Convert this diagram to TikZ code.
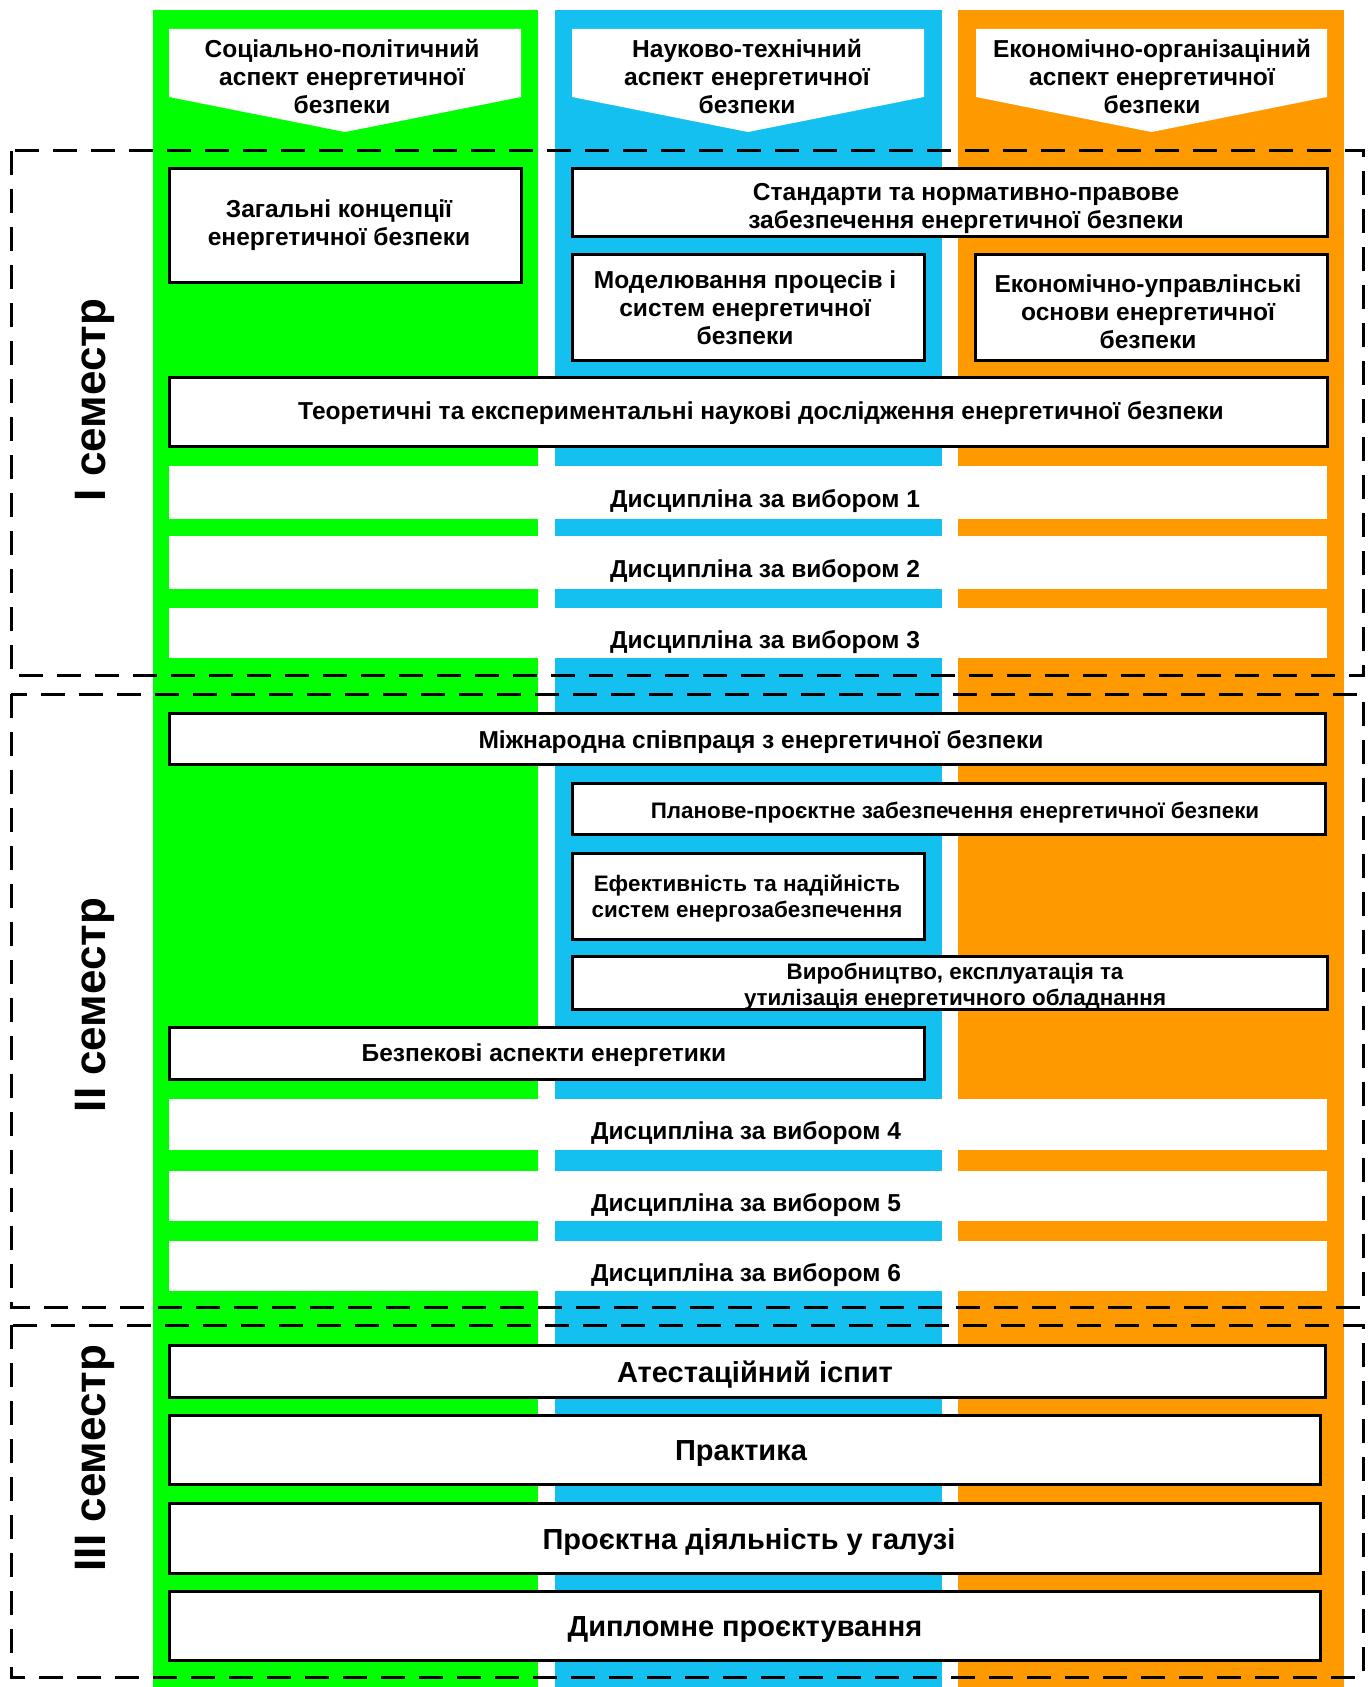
\documentclass[tikz,border=0pt]{standalone}
\usepackage{fontspec}
\setmainfont{Liberation Sans}
\definecolor{cgreen}{RGB}{0,255,0}
\definecolor{cblue}{RGB}{20,192,240}
\definecolor{corange}{RGB}{255,153,0}
\newcommand\fsz[2]{\fontsize{#1pt}{#2pt}\selectfont}
% \cell{style}{x1}{y1}{x2}{y2}{name}{text x}{text style}{text}
\newcommand\cell[9]{%
  \node[#1, minimum width={(#4-#2)*0.75pt}, minimum height={(#5-#3)*0.75pt}] (#6) at ({(#2+#4)/2},{(#3+#5)/2}) {};
  \node[#8] (#6t) at (#7,{(#3+#5)/2}) {#9};}
\begin{document}
\begin{tikzpicture}[x=0.75pt,y=-0.75pt,
  box/.style={draw=black, line width=2.25pt, fill=white, inner sep=0pt},
  opt/.style={draw=none, fill=white, inner sep=0pt},
  txt/.style={font=\bfseries\fsz{18.4}{21}, align=center, inner sep=0pt},
  txe/.style={txt, yshift=-6.5pt},
  txs/.style={font=\bfseries\fsz{16.8}{19.5}, align=center, inner sep=0pt},
  txl/.style={font=\bfseries\fsz{21.75}{24}, align=center, inner sep=0pt, yshift=-3pt},
  sem/.style={font=\bfseries\fsz{33}{36}, rotate=90, inner sep=0pt},
  head/.style={fill=white, draw=none},
  semframe/.style={draw=black, line width=2.25pt, dash pattern=on 18pt off 10.5pt}]
\useasboundingbox (0,0) rectangle (1368,1687);
% columns
\fill[cgreen] (153,10) rectangle (538,1687);
\fill[cblue] (555,10) rectangle (942,1687);
\fill[corange] (958,10) rectangle (1344,1687);
% header arrows
\fill[head] (169,29) -- (521,29) -- (521,97) -- (345,132) -- (169,97) -- cycle;
\fill[head] (572,29) -- (924,29) -- (924,97) -- (748,132) -- (572,97) -- cycle;
\fill[head] (976,29) -- (1327,29) -- (1327,97) -- (1151.5,132) -- (976,97) -- cycle;
\node[txt] (h1) at (342,76) {Соціально-політичний\\аспект енергетичної\\безпеки};
\node[txt] (h2) at (747,76) {Науково-технічний\\аспект енергетичної\\безпеки};
\node[txt] (h3) at (1152,76) {Економічно-організаціний\\аспект енергетичної\\безпеки};
% semester frames
\draw[semframe] (11,151) rectangle (1363,675);
\draw[semframe] (11,694) rectangle (1363,1307);
\draw[semframe] (11,1325) rectangle (1363,1677);
\node[sem] (s1) at (95,400) {I семестр};
\node[sem] (s2) at (95,1005) {II семестр};
\node[sem] (s3) at (95,1458) {III семестр};
% semester I
\cell{box}{169}{169}{521}{282}{b1}{339}{txt}{Загальні концепції\\енергетичної безпеки}
\cell{box}{572}{169}{1327}{237}{b2}{966}{txt,yshift=-4pt}{Стандарти та нормативно-правове\\забезпечення енергетичної безпеки}
\cell{box}{572}{255}{924}{360}{b3}{745}{txt}{Моделювання процесів і\\систем енергетичної\\безпеки}
\cell{box}{975}{255}{1327}{360}{b4}{1148}{txt,yshift=-3pt}{Економічно-управлінські\\основи енергетичної\\безпеки}
\cell{box}{169}{377}{1327}{446}{b5}{761}{txt,yshift=-1.5pt}{Теоретичні та експериментальні наукові дослідження енергетичної безпеки}
\cell{opt}{169}{466}{1327}{519}{d1}{765}{txe}{Дисципліна за вибором 1}
\cell{opt}{169}{536}{1327}{589}{d2}{765}{txe}{Дисципліна за вибором 2}
\cell{opt}{169}{608}{1327}{658}{d3}{765}{txe}{Дисципліна за вибором 3}
% semester II
\cell{box}{169}{713}{1325}{764}{b6}{761}{txt,yshift=-2.5pt}{Міжнародна співпраця з енергетичної безпеки}
\cell{box}{572}{783}{1325}{834}{b7}{955}{txs,yshift=-3pt}{Планове-проєктне забезпечення енергетичної безпеки}
\cell{box}{572}{853}{924}{939}{b8}{747}{txs,yshift=-2pt}{Ефективність та надійність\\систем енергозабезпечення}
\cell{box}{572}{956}{1327}{1009}{b9}{955}{txs,yshift=-3pt}{Виробництво, експлуатація та\\утилізація енергетичного обладнання}
\cell{box}{169}{1027}{924}{1079}{b10}{544}{txt,yshift=-1.5pt}{Безпекові аспекти енергетики}
\cell{opt}{169}{1099}{1327}{1150}{d4}{746}{txe}{Дисципліна за вибором 4}
\cell{opt}{169}{1171}{1327}{1221}{d5}{746}{txe}{Дисципліна за вибором 5}
\cell{opt}{169}{1241}{1327}{1291}{d6}{746}{txe}{Дисципліна за вибором 6}
% semester III
\cell{box}{169}{1345}{1325}{1397}{b11}{755}{txl}{Атестаційний іспит}
\cell{box}{169}{1415}{1320}{1484}{b12}{741}{txl}{Практика}
\cell{box}{169}{1503}{1320}{1573}{b13}{749}{txl}{Проєктна діяльність у галузі}
\cell{box}{169}{1591}{1320}{1660}{b14}{745}{txl}{Дипломне проєктування}
\end{tikzpicture}
\end{document}
